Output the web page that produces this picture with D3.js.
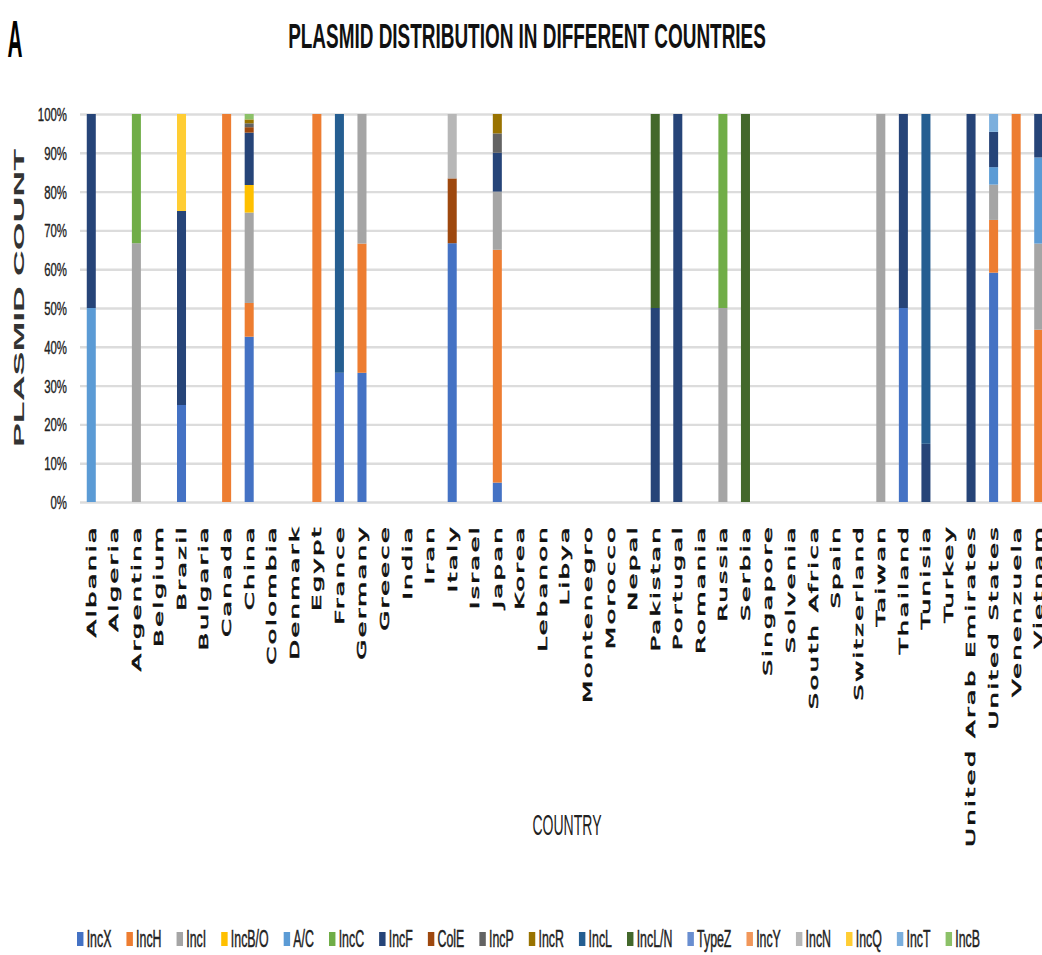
<!DOCTYPE html>
<html><head><meta charset="utf-8">
<script src="https://cdn.jsdelivr.net/npm/d3@7"></script>
<style>html,body{margin:0;padding:0;background:#fff;overflow:hidden}</style>
</head><body>
<svg id="chart" width="1042" height="955"></svg>
<script>
// ---------- DATA ----------
const countries = ["Albania","Algeria","Argentina","Belgium","Brazil","Bulgaria","Canada","China","Colombia","Denmark",
  "Egypt","France","Germany","Greece","India","Iran","Italy","Israel","Japan","Korea",
  "Lebanon","Libya","Montenegro","Morocco","Nepal","Pakistan","Portugal","Romania","Russia","Serbia",
  "Singapore","Solvenia","South Africa","Spain","Switzerland","Taiwan","Thailand","Tunisia","Turkey","United Arab Emirates",
  "United States","Venenzuela","Vietnam"];

const seriesNames = ["IncX","IncH","IncI","IncB/O","A/C","IncC","IncF","ColE","IncP","IncR","IncL","IncL/N","TypeZ","IncY","IncN","IncQ","IncT","IncB"];
const seriesColors = ["#4472C4","#ED7D31","#A5A5A5","#FFC000","#5B9BD5","#70AD47","#264478","#9E480E","#636363","#997300","#255E91","#43682B","#698ED0","#F1975A","#B7B7B7","#FFCD33","#7CAFDD","#8CC168"];

// percent share per country (index order = countries)
const incX  = [0,0,0,0,25,0,0,42.6,0,0, 0,33.3,33.3,0,0,0,66.7,0,5,0, 0,0,0,0,0,0,0,0,0,0, 0,0,0,0,0,0,50,0,0,0, 59.1,0,0];
const incH  = [0,0,0,0,0,0,100,8.7,0,0, 100,0,33.3,0,0,0,0,0,60,0, 0,0,0,0,0,0,0,0,0,0, 0,0,0,0,0,0,0,0,0,0, 13.6,100,44.4];
const incI  = [0,0,66.7,0,0,0,0,23.3,0,0, 0,0,33.4,0,0,0,0,0,15,0, 0,0,0,0,0,0,0,0,50,0, 0,0,0,0,0,100,0,0,0,0, 9.1,0,22.2];
const incBO = [0,0,0,0,0,0,0,7.1,0,0, 0,0,0,0,0,0,0,0,0,0, 0,0,0,0,0,0,0,0,0,0, 0,0,0,0,0,0,0,0,0,0, 0,0,0];
const aC    = [50,0,0,0,0,0,0,0,0,0, 0,0,0,0,0,0,0,0,0,0, 0,0,0,0,0,0,0,0,0,0, 0,0,0,0,0,0,0,0,0,0, 4.5,0,22.2];
const incC  = [0,0,33.3,0,0,0,0,0,0,0, 0,0,0,0,0,0,0,0,0,0, 0,0,0,0,0,0,0,0,50,0, 0,0,0,0,0,0,0,0,0,0, 0,0,0];
const incF  = [50,0,0,0,50,0,0,13.5,0,0, 0,0,0,0,0,0,0,0,10,0, 0,0,0,0,0,50,100,0,0,0, 0,0,0,0,0,0,50,15,0,100, 9.1,0,11.2];
const colE  = [0,0,0,0,0,0,0,1.4,0,0, 0,0,0,0,0,0,16.7,0,0,0, 0,0,0,0,0,0,0,0,0,0, 0,0,0,0,0,0,0,0,0,0, 0,0,0];
const incP  = [0,0,0,0,0,0,0,1.0,0,0, 0,0,0,0,0,0,0,0,5,0, 0,0,0,0,0,0,0,0,0,0, 0,0,0,0,0,0,0,0,0,0, 0,0,0];
const incR  = [0,0,0,0,0,0,0,1.0,0,0, 0,0,0,0,0,0,0,0,5,0, 0,0,0,0,0,0,0,0,0,0, 0,0,0,0,0,0,0,0,0,0, 0,0,0];
const incL  = [0,0,0,0,0,0,0,0,0,0, 0,66.7,0,0,0,0,0,0,0,0, 0,0,0,0,0,0,0,0,0,0, 0,0,0,0,0,0,0,85,0,0, 0,0,0];
const incLN = [0,0,0,0,0,0,0,0,0,0, 0,0,0,0,0,0,0,0,0,0, 0,0,0,0,0,50,0,0,0,100, 0,0,0,0,0,0,0,0,0,0, 0,0,0];
const typeZ = [0,0,0,0,0,0,0,0,0,0, 0,0,0,0,0,0,0,0,0,0, 0,0,0,0,0,0,0,0,0,0, 0,0,0,0,0,0,0,0,0,0, 0,0,0];
const incY  = [0,0,0,0,0,0,0,0,0,0, 0,0,0,0,0,0,0,0,0,0, 0,0,0,0,0,0,0,0,0,0, 0,0,0,0,0,0,0,0,0,0, 0,0,0];
const incN  = [0,0,0,0,0,0,0,0,0,0, 0,0,0,0,0,0,16.6,0,0,0, 0,0,0,0,0,0,0,0,0,0, 0,0,0,0,0,0,0,0,0,0, 0,0,0];
const incQ  = [0,0,0,0,25,0,0,0,0,0, 0,0,0,0,0,0,0,0,0,0, 0,0,0,0,0,0,0,0,0,0, 0,0,0,0,0,0,0,0,0,0, 0,0,0];
const incT  = [0,0,0,0,0,0,0,0,0,0, 0,0,0,0,0,0,0,0,0,0, 0,0,0,0,0,0,0,0,0,0, 0,0,0,0,0,0,0,0,0,0, 4.6,0,0];
const incB  = [0,0,0,0,0,0,0,1.4,0,0, 0,0,0,0,0,0,0,0,0,0, 0,0,0,0,0,0,0,0,0,0, 0,0,0,0,0,0,0,0,0,0, 0,0,0];

const seriesValues = [incX,incH,incI,incBO,aC,incC,incF,colE,incP,incR,incL,incLN,typeZ,incY,incN,incQ,incT,incB];
const yTicks = [0,10,20,30,40,50,60,70,80,90,100];
const yTickLabels = ["0%","10%","20%","30%","40%","50%","60%","70%","80%","90%","100%"];

const titleText = "PLASMID DISTRIBUTION IN DIFFERENT COUNTRIES";
const panelLetter = "A";
const yTitle = "PLASMID COUNT";
const xTitle = "COUNTRY";

// ---------- CHART ----------
const svg = d3.select("#chart");
const FONT = "'Liberation Sans', Arial, sans-serif";

const rows = countries.map((c, i) => {
  const r = {country: c};
  seriesNames.forEach((s, k) => r[s] = seriesValues[k][i]);
  return r;
});
const stacked = d3.stack().keys(seriesNames)(rows);

const x = d3.scaleBand().domain(countries).range([80, 1050]).paddingInner(0.6).paddingOuter(0.3);
const y = d3.scaleLinear().domain([0, 100]).range([502, 114]);
const color = d3.scaleOrdinal().domain(seriesNames).range(seriesColors);

// helper: draw text then condense horizontally to a target width
function condensed(parent, str, cxPos, baseY, targetW, attrs) {
  const g = parent.append("g");
  const t = g.append("text").attr("x", 0).attr("y", 0).attr("text-anchor", "middle").text(str);
  Object.entries(attrs).forEach(([k, v]) => t.attr(k, v));
  const w = t.node().getComputedTextLength();
  g.attr("transform", `translate(${cxPos},${baseY}) scale(${targetW / w},1)`);
  return g;
}

// gridlines
const grid = svg.append("g").attr("transform", "translate(80,0)")
  .call(d3.axisLeft(y).tickValues(yTicks).tickSize(-962).tickFormat(""));
grid.select(".domain").remove();
grid.selectAll(".tick line").attr("stroke", "#dcdcdc").attr("stroke-width", 2.4);

// y tick labels (condensed)
svg.append("g").selectAll("text").data(yTicks).join("text")
  .attr("transform", d => `translate(67,${y(d) + 7}) scale(0.6,1)`)
  .attr("text-anchor", "end")
  .attr("font-family", FONT).attr("font-size", 19).attr("fill", "#222")
  .attr("stroke", "#222").attr("stroke-width", 0.4)
  .text((d, i) => yTickLabels[i]);

// bars
svg.append("g").selectAll("g").data(stacked).join("g")
  .attr("fill", d => color(d.key))
  .selectAll("rect").data(d => d.filter(p => p[1] - p[0] > 0)).join("rect")
  .attr("x", d => x(d.data.country))
  .attr("width", x.bandwidth())
  .attr("y", d => y(d[1]))
  .attr("height", d => y(d[0]) - y(d[1]));

// x labels (rotated, stretched)
svg.append("g").selectAll("text").data(countries).join("text")
  .attr("transform", d => `translate(${x(d) + x.bandwidth() / 2},525) rotate(-90) scale(1,0.5)`)
  .attr("text-anchor", "end")
  .attr("dominant-baseline", "central")
  .attr("font-family", "'DejaVu Sans', Verdana, sans-serif")
  .attr("font-size", 26).attr("letter-spacing", 2.2).attr("fill", "#111")
  .attr("stroke", "#111").attr("stroke-width", 1.1)
  .text(d => d);

// title
condensed(svg, titleText, 527, 48, 478,
  {"font-family": FONT, "font-weight": "bold", "font-size": 35, "fill": "#111"});

// panel letter
condensed(svg, panelLetter, 15, 57, 15,
  {"font-family": FONT, "font-weight": "bold", "font-size": 52, "fill": "#000"});

// y axis title
svg.append("text")
  .attr("transform", "translate(19,298) rotate(-90) scale(1,0.55)")
  .attr("text-anchor", "middle").attr("dominant-baseline", "central")
  .attr("font-family", FONT).attr("font-weight", "bold").attr("font-size", 26)
  .attr("textLength", 298).attr("lengthAdjust", "spacingAndGlyphs").attr("fill", "#333")
  .text(yTitle);

// x axis title
condensed(svg, xTitle, 567, 835, 69,
  {"font-family": FONT, "font-size": 30, "fill": "#222"});

// legend (laid out naturally, then condensed to span)
const legend = svg.append("g");
const inner = legend.append("g");
let cx = 0;
const SW = 12, GAP1 = 6, GAP2 = 28;
seriesNames.forEach((s, k) => {
  const it = inner.append("g").attr("transform", `translate(${cx},0)`);
  it.append("rect").attr("x", 0).attr("y", -7).attr("width", SW).attr("height", 14).attr("fill", color(s));
  const t = it.append("text").attr("x", SW + GAP1).attr("y", 8)
    .attr("font-family", FONT).attr("font-size", 23).attr("fill", "#222")
    .attr("stroke", "#222").attr("stroke-width", 0.5).text(s);
  cx += SW + GAP1 + t.node().getComputedTextLength() + GAP2;
});
const natural = cx - GAP2;
const s = (980 - 77) / natural;
legend.attr("transform", `translate(77,939) scale(${s},1)`);
</script>
</body></html>
